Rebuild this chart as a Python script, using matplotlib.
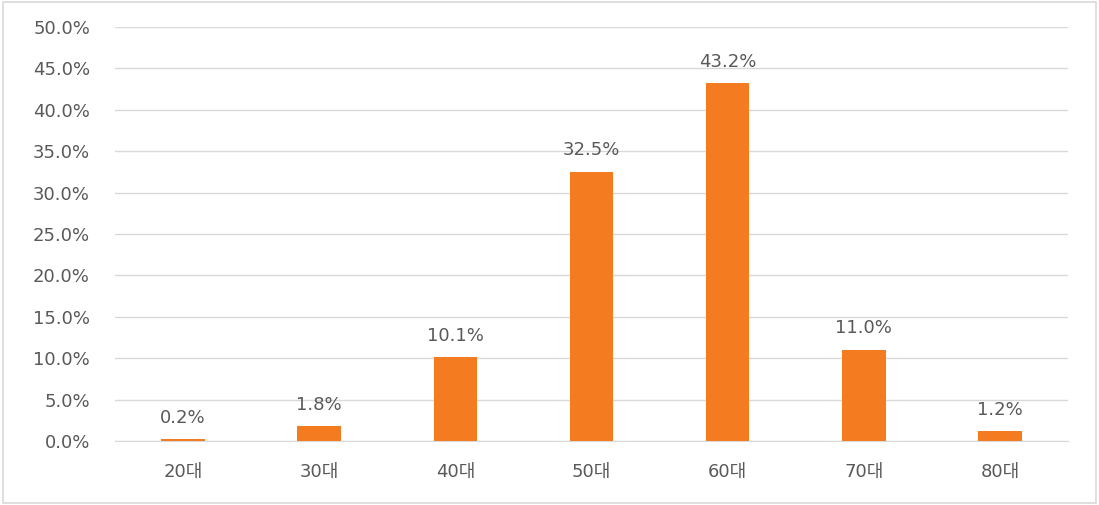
import matplotlib
matplotlib.use("Agg")
import matplotlib.pyplot as plt
from matplotlib.patches import Rectangle
from matplotlib.ticker import MultipleLocator, FuncFormatter

plt.rcParams['font.family'] = ['DejaVu Sans', 'Noto Sans CJK KR']

categories = ["20대", "30대", "40대", "50대", "60대", "70대", "80대"]
values = [0.2, 1.8, 10.1, 32.5, 43.2, 11.0, 1.2]

text_color = "#595959"
bar_color = "#F47B20"
grid_color = "#D9D9D9"

fig = plt.figure(figsize=(10.99, 5.05), dpi=100)
ax = fig.add_axes([0.1046, 0.1267, 0.8672, 0.8198])

x = range(len(categories))
ax.bar(x, values, width=0.32, color=bar_color, zorder=3)

for xi, v in zip(x, values):
    ax.annotate(f"{v:.1f}%", (xi, v), xytext=(0, 9), textcoords="offset points",
                ha="center", va="bottom", fontsize=13, color=text_color)

ax.set_xlim(-0.5, len(categories) - 0.5)
ax.set_ylim(0, 50)
ax.yaxis.set_major_locator(MultipleLocator(5))
ax.yaxis.set_major_formatter(FuncFormatter(lambda v, _: f"{v:.1f}%"))
ax.set_xticks(list(x))
ax.set_xticklabels(categories)

ax.grid(axis="y", color=grid_color, linewidth=1, zorder=0)
for s in ["top", "right", "left"]:
    ax.spines[s].set_visible(False)
ax.spines["bottom"].set_color(grid_color)
ax.tick_params(axis="both", length=0, labelsize=13, labelcolor=text_color)
ax.tick_params(axis="y", pad=18)
ax.tick_params(axis="x", pad=16)

fig.patches.append(Rectangle((0.003, 0.004), 0.994, 0.992, transform=fig.transFigure,
                             fill=False, edgecolor="#D9D9D9", linewidth=1.2))

fig.savefig("out.png", dpi=100)
